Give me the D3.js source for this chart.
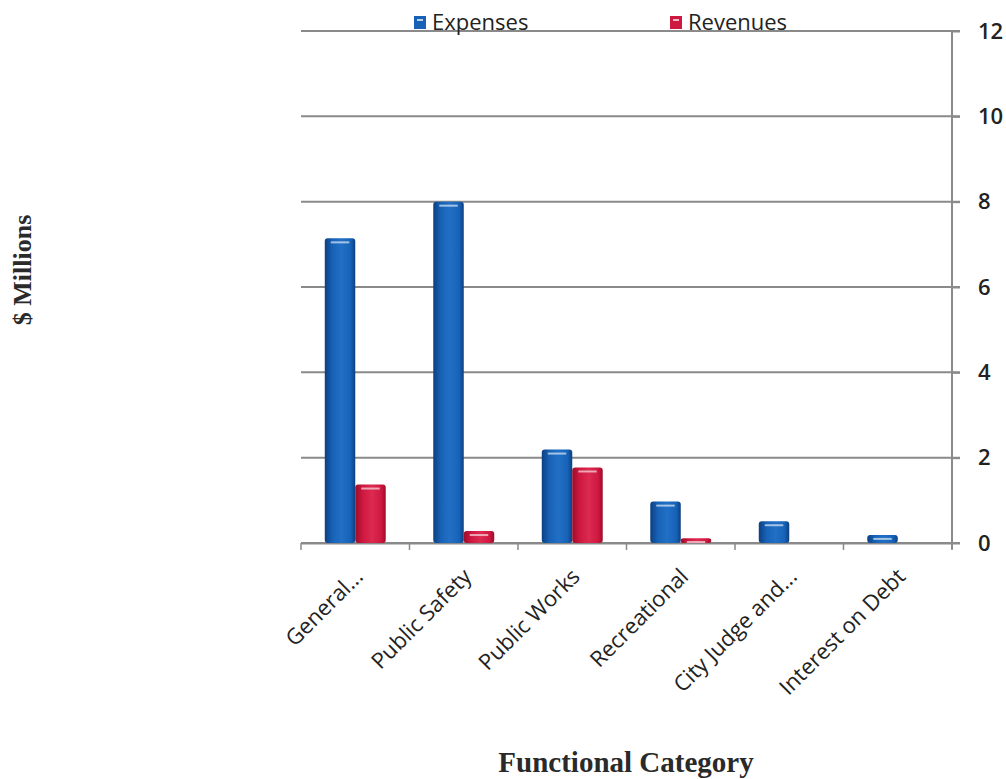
<!DOCTYPE html>
<html>
<head>
<meta charset="utf-8">
<script src="https://cdn.jsdelivr.net/npm/d3@7"></script>
<style>
  body { margin: 0; background: #fff; }
  svg { display: block; }
  .tick text { font-family: "Open Sans", "DejaVu Sans", sans-serif; fill: #222; }
</style>
</head>
<body>
<svg id="chart" width="1006" height="779"></svg>
<script>
var categories = ['General...', 'Public Safety', 'Public Works', 'Recreational', 'City Judge and...', 'Interest on Debt'];
var seriesNames = ['Expenses', 'Revenues'];
var expenses = [7.14, 8.0, 2.19, 0.97, 0.51, 0.19];
var revenues = [1.37, 0.28, 1.77, 0.11, 0, 0];
var yTicks = [0, 2, 4, 6, 8, 10, 12];

var margin = { top: 31, right: 54, bottom: 236, left: 301 };
var width = 1006 - margin.left - margin.right;
var height = 779 - margin.top - margin.bottom;

var svg = d3.select('#chart');
var defs = svg.append('defs');

function barGradient(id, edge, mid, light) {
  var g = defs.append('linearGradient').attr('id', id)
    .attr('x1', '0%').attr('x2', '100%').attr('y1', '0%').attr('y2', '0%');
  g.append('stop').attr('offset', '0%').attr('stop-color', edge);
  g.append('stop').attr('offset', '25%').attr('stop-color', mid);
  g.append('stop').attr('offset', '55%').attr('stop-color', light);
  g.append('stop').attr('offset', '85%').attr('stop-color', mid);
  g.append('stop').attr('offset', '100%').attr('stop-color', edge);
}
barGradient('grad-exp', '#0c3f80', '#1762b6', '#2170c6');
barGradient('grad-rev', '#9c0c2a', '#cf1840', '#dc2a50');

var colors = { Expenses: 'url(#grad-exp)', Revenues: 'url(#grad-rev)' };
var legendColors = { Expenses: '#1762b6', Revenues: '#cf1840' };

var g = svg.append('g')
  .attr('transform', 'translate(' + margin.left + ',' + margin.top + ')');

var x0 = d3.scaleBand().domain(categories).range([0, width]);
var x1 = d3.scaleBand().domain(seriesNames).range([0, x0.bandwidth()]).paddingOuter(0.78);
var y = d3.scaleLinear().domain([0, 12]).range([height, 0]);

// gridlines
g.append('g')
  .selectAll('line')
  .data(yTicks)
  .enter().append('line')
  .attr('x1', 0).attr('x2', width + 8)
  .attr('y1', function (d) { return y(d); })
  .attr('y2', function (d) { return y(d); })
  .attr('stroke', '#8a8a8a')
  .attr('stroke-width', 2);

// right axis
var yAxis = g.append('g')
  .attr('transform', 'translate(' + width + ',0)')
  .call(d3.axisRight(y).tickValues(yTicks).tickSize(8).tickSizeOuter(0).tickPadding(18));
yAxis.select('.domain').attr('stroke', '#8a8a8a').attr('stroke-width', 2)
  .attr('d', 'M0,0V' + (height + 6));
yAxis.selectAll('.tick line').attr('stroke', '#8a8a8a').attr('stroke-width', 2);
yAxis.selectAll('.tick text').style('font-size', '22px').style('font-weight', '600');

// bottom axis
var xAxis = g.append('g')
  .attr('transform', 'translate(0,' + height + ')')
  .call(d3.axisBottom(x0).tickSize(0).tickPadding(0));
xAxis.select('.domain').attr('stroke', '#8a8a8a').attr('stroke-width', 2);
xAxis.selectAll('.tick text')
  .style('font-size', '22px')
  .style('text-anchor', 'end')
  .attr('transform', 'translate(9,35) rotate(-45)')
  .attr('dy', '0');
xAxis.selectAll('.bound')
  .data(d3.range(categories.length + 1))
  .enter().append('line')
  .attr('class', 'bound')
  .attr('x1', function (i) { return i * x0.step(); })
  .attr('x2', function (i) { return i * x0.step(); })
  .attr('y1', 0).attr('y2', 7)
  .attr('stroke', '#8a8a8a').attr('stroke-width', 1.5);

// bars
var rows = categories.map(function (c, i) {
  return { cat: c, values: [{ key: 'Expenses', value: expenses[i] }, { key: 'Revenues', value: revenues[i] }] };
});

var groups = g.selectAll('.group')
  .data(rows)
  .enter().append('g')
  .attr('class', 'group')
  .attr('transform', function (d) { return 'translate(' + x0(d.cat) + ',0)'; });

var bars = groups.selectAll('.bar')
  .data(function (d) { return d.values.filter(function (v) { return v.value > 0; }); })
  .enter().append('g');

bars.append('rect')
  .attr('x', function (d) { return x1(d.key); })
  .attr('width', x1.bandwidth())
  .attr('y', function (d) { return y(d.value); })
  .attr('height', function (d) { return height - y(d.value); })
  .attr('rx', 3)
  .attr('fill', function (d) { return colors[d.key]; });

bars.append('line')
  .attr('x1', function (d) { return x1(d.key) + 6; })
  .attr('x2', function (d) { return x1(d.key) + x1.bandwidth() - 6; })
  .attr('y1', function (d) { return Math.min(y(d.value) + 4, height - 1); })
  .attr('y2', function (d) { return Math.min(y(d.value) + 4, height - 1); })
  .attr('stroke', '#ffffff')
  .attr('stroke-opacity', 0.6)
  .attr('stroke-width', 2);

// legend
var legendX = { Expenses: 414, Revenues: 670 };
var legend = svg.append('g');
seriesNames.forEach(function (s) {
  legend.append('rect')
    .attr('x', legendX[s]).attr('y', 16)
    .attr('width', 12).attr('height', 13)
    .attr('fill', legendColors[s]);
  legend.append('rect')
    .attr('x', legendX[s] + 3).attr('y', 19)
    .attr('width', 6).attr('height', 2)
    .attr('fill', '#fff').attr('opacity', 0.7);
  legend.append('text')
    .attr('x', legendX[s] + 18).attr('y', 30)
    .style('font-family', '"Open Sans", "DejaVu Sans", sans-serif')
    .style('font-size', '22px')
    .attr('fill', '#222')
    .text(s);
});

// axis titles
svg.append('text')
  .attr('transform', 'translate(31,270) rotate(-90)')
  .attr('text-anchor', 'middle')
  .style('font-family', '"Liberation Serif", "DejaVu Serif", serif')
  .style('font-weight', 'bold')
  .style('font-size', '26px')
  .attr('fill', '#2a2a2a')
  .text('$ Millions');

svg.append('text')
  .attr('x', 626).attr('y', 772)
  .attr('text-anchor', 'middle')
  .style('font-family', '"Liberation Serif", "DejaVu Serif", serif')
  .style('font-weight', 'bold')
  .style('font-size', '29px')
  .attr('fill', '#2a2a2a')
  .text('Functional Category');
</script>
</body>
</html>
